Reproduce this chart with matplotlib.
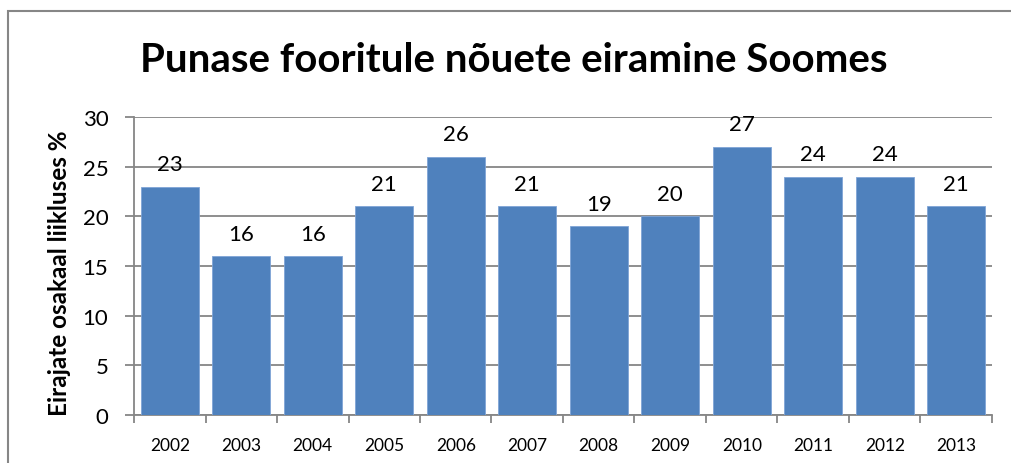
import matplotlib
matplotlib.use("Agg")
import matplotlib.pyplot as plt
from matplotlib.patches import Rectangle

years = ["2002", "2003", "2004", "2005", "2006", "2007", "2008", "2009", "2010", "2011", "2012", "2013"]
values = [23, 16, 16, 21, 26, 21, 19, 20, 27, 24, 24, 21]
title = "Punase fooritule nõuete eiramine Soomes"
ylabel = "Eirajate osakaal liikluses %"

plt.rcParams['font.family'] = ['Lato', 'DejaVu Sans']

fig = plt.figure(figsize=(10.12, 4.64), dpi=100)
ax = fig.add_axes([134 / 1012, 1 - 416 / 464, (992 - 134) / 1012, (416 - 118) / 464])

x = list(range(len(years)))
ax.bar(x, values, width=0.81, color="#4F81BD", edgecolor="#7FA4D6", linewidth=0.6, zorder=3)

ax.set_xlim(-0.5, len(years) - 0.5)
ax.set_ylim(0, 30)
ax.set_yticks(range(0, 31, 5))
ax.yaxis.grid(True, color="#868686", linewidth=1.3, zorder=0)
ax.set_axisbelow(True)

ax.set_xticks(x)
ax.set_xticklabels(years, fontsize=12.5)
ax.tick_params(axis='x', length=0, pad=16)
ax.set_xticks([i - 0.5 for i in range(len(years) + 1)], minor=True)
ax.tick_params(axis='x', which='minor', length=6, width=1.3, color="#868686", direction='out')
ax.tick_params(axis='y', labelsize=16, length=6.5, width=1.3, color="#868686", pad=12)

for s in ['top', 'right']:
    ax.spines[s].set_visible(False)
for s in ['left', 'bottom']:
    ax.spines[s].set_color("#868686")
    ax.spines[s].set_linewidth(1.3)

for xi, v in zip(x, values):
    ax.annotate(str(v), (xi, v), xytext=(0, 9), textcoords='offset points',
                ha='center', va='bottom', fontsize=16)

fig.text(60 / 1012, 1 - 273 / 464, ylabel, rotation=90, ha='center', va='center',
         fontsize=17.5, fontweight='bold')
fig.text(0.508, 1 - 61 / 464, title, ha='center', va='center', fontsize=29, fontweight='bold')

fig.patches.append(Rectangle((8 / 1012, -0.1), 1.2, (1 - 12 / 464) + 0.1, transform=fig.transFigure,
                             fill=False, edgecolor="#868686", linewidth=1.5))

fig.savefig("out.png", dpi=100)
